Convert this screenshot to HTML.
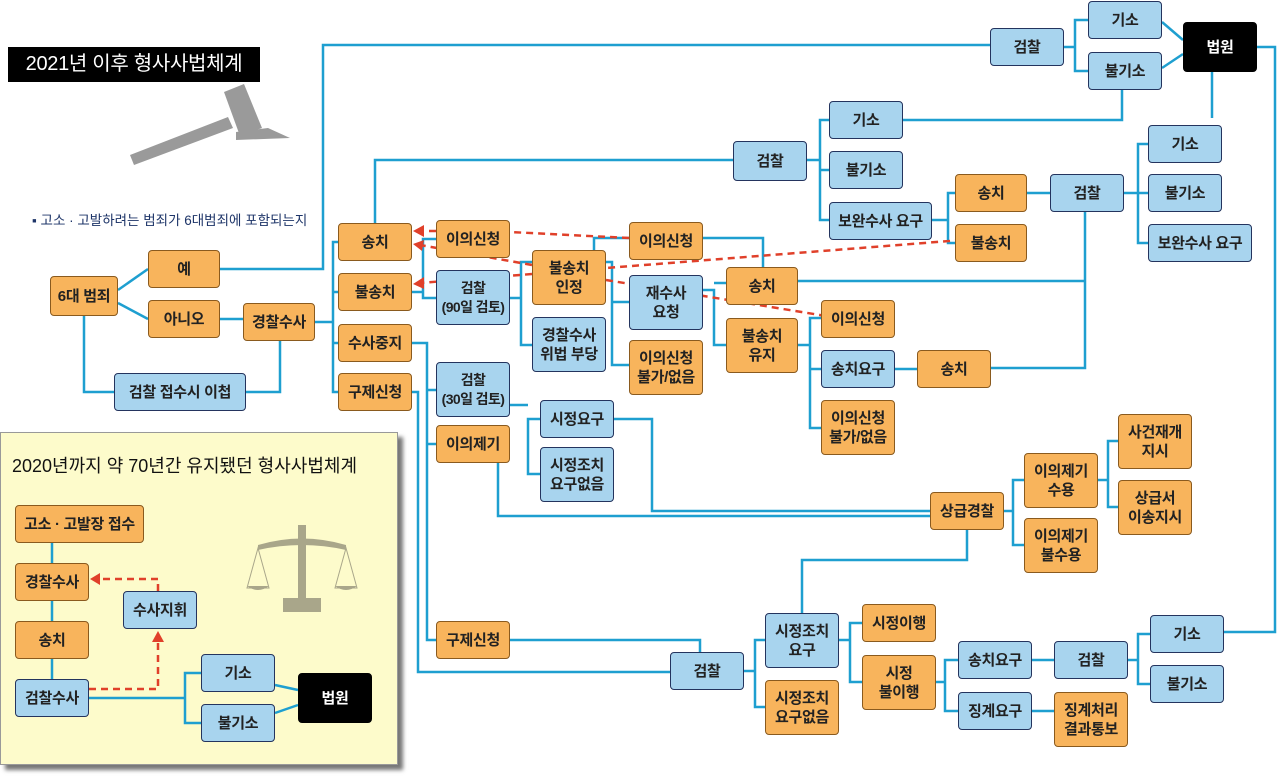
<!DOCTYPE html>
<html><head><meta charset="utf-8"><style>
body{margin:0;width:1278px;height:780px;background:#fff;position:relative;overflow:hidden;font-family:"Liberation Sans","Noto Sans CJK KR",sans-serif;}
svg{position:absolute;left:0;top:0}
.b{position:absolute;box-sizing:border-box;border-radius:4px;display:flex;align-items:center;justify-content:center;text-align:center;font-size:15px;font-weight:bold;line-height:19px;color:#222;white-space:nowrap;letter-spacing:-0.3px}
.s{font-size:14px;letter-spacing:-0.6px}
.o{background:#f8b45c;border:1.5px solid #8a5a1e}
.u{background:#a8d4ee;border:1.5px solid #24345e}
.k{background:#000;color:#fff;border:1px solid #000}
.dot{position:absolute;width:6px;height:6px;border-radius:3px;background:#e8301c}
</style></head><body>
<div style="position:absolute;left:0;top:432px;width:398px;height:333px;background:#fdfbcb;border:1px solid #999;box-shadow:5px 5px 4px #777;box-sizing:border-box"></div>
<svg width="1278" height="780">
<g fill="#9a9a9a">
<polygon points="130,155 228,117 233,128 134,165"/>
<polygon points="224,92 244,84 262,128 240,136"/>
<polygon points="236,132 268,128 290,138 236,140"/>
</g>
<g fill="#a9a68a">
<rect x="298" y="525" width="8" height="78"/><rect x="283" y="598" width="38" height="14"/>
<path d="M258 545 Q302 532 346 545 L346 550 Q302 540 258 550Z"/>
<path d="M247 588 L258 548 L269 588Z" fill="none" stroke="#a9a68a"/><path d="M247 586 h22 q-11 8 -22 0z"/>
<path d="M335 588 L346 548 L357 588Z" fill="none" stroke="#a9a68a"/><path d="M335 586 h22 q-11 8 -22 0z"/>
</g>
<g stroke="#1e9fd0" stroke-width="2.5" fill="none">
<polyline points="220,269 323,269 323,45 990,45"/>
<line x1="118" y1="290" x2="148" y2="269"/><line x1="118" y1="303" x2="148" y2="319"/>
<polyline points="84,316 84,392 114,392"/><polyline points="246,392 280,392 280,341"/>
<line x1="220" y1="319" x2="243" y2="319"/>
<polyline points="315,322 333,322"/><polyline points="338,242 333,242 333,392 338,392"/>
<line x1="333" y1="292" x2="338" y2="292"/><line x1="333" y1="343" x2="338" y2="343"/>
<polyline points="375,223 375,160 733,160"/>
<polyline points="807,160 820,160"/><polyline points="829,120 820,120 820,220 829,220"/><line x1="820" y1="170" x2="829" y2="170"/>
<polyline points="903,120 1122,120 1122,90"/>
<polyline points="932,220 948,220"/><polyline points="955,193 948,193 948,243 955,243"/>
<line x1="1027" y1="193" x2="1050" y2="193"/>
<polyline points="1124,193 1138,193"/><polyline points="1148,144 1138,144 1138,243 1148,243"/><line x1="1138" y1="193" x2="1148" y2="193"/>
<polyline points="1085,212 1085,368 991,368"/><line x1="798" y1="281" x2="1085" y2="281"/>
<polyline points="1064,47 1075,47"/><polyline points="1088,20 1075,20 1075,71 1088,71"/>
<line x1="1162" y1="22" x2="1183" y2="40"/><line x1="1162" y1="68" x2="1183" y2="54"/>
<polyline points="1257,47 1275,47 1275,632 1224,632"/>
<polyline points="1212,72 1212,118"/>
<polyline points="436,239 423,239 423,298 436,298"/><line x1="412" y1="292" x2="423" y2="292"/>
<polyline points="510,298 521,298"/><polyline points="532,262 521,262 521,345 532,345"/>
<polyline points="594,250 594,238 629,238"/>
<polyline points="606,262 612,262 612,365 629,365"/><line x1="612" y1="302" x2="629" y2="302"/>
<polyline points="703,238 763,238 763,267"/>
<polyline points="703,290 714,290 714,345 726,345"/><line x1="714" y1="283" x2="726" y2="283"/>
<polyline points="798,345 810,345"/><polyline points="821,318 810,318 810,428 821,428"/><line x1="810" y1="369" x2="821" y2="369"/>
<line x1="895" y1="369" x2="917" y2="369"/>
<polyline points="412,343 427,343 427,640 436,640"/><line x1="427" y1="390" x2="436" y2="390"/><line x1="427" y1="444" x2="436" y2="444"/>
<polyline points="412,392 418,392 418,672 670,672"/>
<polyline points="510,640 700,640 700,652"/>
<polyline points="744,671 755,671"/><polyline points="765,640 755,640 755,707 765,707"/>
<polyline points="839,640 850,640"/><polyline points="862,623 850,623 850,682 862,682"/>
<polyline points="802,615 802,560 967,560 967,530"/>
<polyline points="510,405 528,405"/><polyline points="540,419 528,419 528,474 540,474"/>
<polyline points="614,419 652,419 652,511 930,511"/>
<polyline points="498,463 498,516 930,516"/>
<polyline points="1004,511 1013,511"/><polyline points="1024,480 1013,480 1013,545 1024,545"/>
<polyline points="1098,480 1108,480"/><polyline points="1118,441 1108,441 1108,507 1118,507"/>
<polyline points="936,682 945,682"/><polyline points="958,660 945,660 945,711 958,711"/>
<line x1="1032" y1="660" x2="1054" y2="660"/><line x1="1032" y1="711" x2="1054" y2="711"/>
<polyline points="1128,660 1138,660"/><polyline points="1150,634 1138,634 1138,684 1150,684"/>
<line x1="52" y1="543" x2="52" y2="563"/><line x1="52" y1="601" x2="52" y2="621"/><line x1="52" y1="659" x2="52" y2="679"/>
<polyline points="89,698 185,698"/><polyline points="201,673 185,673 185,723 201,723"/>
<line x1="275" y1="685" x2="298" y2="690"/><line x1="275" y1="713" x2="298" y2="705"/>
</g>
<g stroke="#e0402a" stroke-width="2.5" fill="none" stroke-dasharray="7,5">
<line x1="629" y1="238" x2="510" y2="232"/><line x1="436" y1="231" x2="420" y2="231"/>
<line x1="532" y1="265" x2="420" y2="245"/>
<line x1="962" y1="240" x2="606" y2="268"/>
<line x1="532" y1="274" x2="420" y2="283"/>
<line x1="826" y1="316" x2="606" y2="280"/>
<polyline points="89,689 158,689 158,640"/><polyline points="158,591 158,579 96,579"/>
</g>
<g fill="#e0402a">
<polygon points="413,231 424,225 424,237"/><polygon points="413,244 424,240 422,251"/><polygon points="413,284 424,277 424,289"/>
<polygon points="158,631 152,642 164,642"/><polygon points="90,579 100,573 100,585"/>
</g>
</svg>
<div class="dot" style="left:629px;top:234px"></div><div class="dot" style="left:958px;top:237px"></div><div class="dot" style="left:823px;top:313px"></div>
<div class="b k" style="left:8px;top:47px;width:252px;height:35px;font-weight:normal;font-size:20px;border-radius:0">2021년 이후 형사사법체계</div>
<div style="position:absolute;left:32px;top:209px;font-size:13.5px;color:#1d3468">▪ 고소 · 고발하려는 범죄가 6대범죄에 포함되는지</div>
<div class="b o" style="left:50px;top:276px;width:68px;height:40px">6대 범죄</div>
<div class="b o" style="left:148px;top:250px;width:72px;height:38px">예</div>
<div class="b o" style="left:148px;top:300px;width:72px;height:38px">아니오</div>
<div class="b o" style="left:243px;top:303px;width:72px;height:38px">경찰수사</div>
<div class="b u" style="left:114px;top:373px;width:132px;height:38px">검찰 접수시 이첩</div>
<div class="b o" style="left:338px;top:223px;width:74px;height:38px">송치</div>
<div class="b o" style="left:338px;top:273px;width:74px;height:38px">불송치</div>
<div class="b o" style="left:338px;top:324px;width:74px;height:38px">수사중지</div>
<div class="b o" style="left:338px;top:373px;width:74px;height:38px">구제신청</div>
<div class="b o" style="left:436px;top:220px;width:74px;height:38px">이의신청</div>
<div class="b u s" style="left:436px;top:270px;width:74px;height:55px">검찰<br>(90일 검토)</div>
<div class="b o" style="left:532px;top:250px;width:74px;height:55px">불송치<br>인정</div>
<div class="b u" style="left:532px;top:317px;width:74px;height:55px">경찰수사<br>위법 부당</div>
<div class="b o" style="left:629px;top:222px;width:74px;height:38px">이의신청</div>
<div class="b u" style="left:629px;top:275px;width:74px;height:55px">재수사<br>요청</div>
<div class="b o" style="left:629px;top:340px;width:74px;height:55px">이의신청<br>불가/없음</div>
<div class="b o" style="left:726px;top:267px;width:72px;height:38px">송치</div>
<div class="b o" style="left:726px;top:318px;width:72px;height:55px">불송치<br>유지</div>
<div class="b o" style="left:821px;top:300px;width:74px;height:38px">이의신청</div>
<div class="b u" style="left:821px;top:350px;width:74px;height:38px">송치요구</div>
<div class="b o" style="left:917px;top:350px;width:74px;height:38px">송치</div>
<div class="b o" style="left:821px;top:400px;width:74px;height:55px">이의신청<br>불가/없음</div>
<div class="b u" style="left:733px;top:141px;width:74px;height:40px">검찰</div>
<div class="b u" style="left:829px;top:101px;width:74px;height:38px">기소</div>
<div class="b u" style="left:829px;top:151px;width:74px;height:38px">불기소</div>
<div class="b u" style="left:829px;top:202px;width:103px;height:38px">보완수사 요구</div>
<div class="b o" style="left:955px;top:174px;width:72px;height:38px">송치</div>
<div class="b o" style="left:955px;top:224px;width:72px;height:38px">불송치</div>
<div class="b u" style="left:1050px;top:174px;width:74px;height:38px">검찰</div>
<div class="b u" style="left:1148px;top:125px;width:74px;height:38px">기소</div>
<div class="b u" style="left:1148px;top:174px;width:74px;height:38px">불기소</div>
<div class="b u" style="left:1148px;top:224px;width:104px;height:38px">보완수사 요구</div>
<div class="b u" style="left:990px;top:28px;width:74px;height:38px">검찰</div>
<div class="b u" style="left:1088px;top:1px;width:74px;height:38px">기소</div>
<div class="b u" style="left:1088px;top:52px;width:74px;height:38px">불기소</div>
<div class="b k" style="left:1183px;top:22px;width:74px;height:50px">법원</div>
<div class="b u s" style="left:436px;top:362px;width:74px;height:55px">검찰<br>(30일 검토)</div>
<div class="b o" style="left:436px;top:425px;width:74px;height:38px">이의제기</div>
<div class="b u" style="left:540px;top:400px;width:74px;height:38px">시정요구</div>
<div class="b u" style="left:540px;top:447px;width:74px;height:55px">시정조치<br>요구없음</div>
<div class="b o" style="left:930px;top:492px;width:74px;height:38px">상급경찰</div>
<div class="b o" style="left:1024px;top:453px;width:74px;height:55px">이의제기<br>수용</div>
<div class="b o" style="left:1024px;top:518px;width:74px;height:55px">이의제기<br>불수용</div>
<div class="b o" style="left:1118px;top:414px;width:74px;height:55px">사건재개<br>지시</div>
<div class="b o" style="left:1118px;top:480px;width:74px;height:55px">상급서<br>이송지시</div>
<div class="b o" style="left:436px;top:621px;width:74px;height:38px">구제신청</div>
<div class="b u" style="left:670px;top:652px;width:74px;height:38px">검찰</div>
<div class="b u" style="left:765px;top:613px;width:74px;height:55px">시정조치<br>요구</div>
<div class="b o" style="left:765px;top:680px;width:74px;height:55px">시정조치<br>요구없음</div>
<div class="b o" style="left:862px;top:604px;width:74px;height:38px">시정이행</div>
<div class="b o" style="left:862px;top:655px;width:74px;height:55px">시정<br>불이행</div>
<div class="b u" style="left:958px;top:641px;width:74px;height:38px">송치요구</div>
<div class="b u" style="left:958px;top:692px;width:74px;height:38px">징계요구</div>
<div class="b u" style="left:1054px;top:641px;width:74px;height:38px">검찰</div>
<div class="b o" style="left:1054px;top:692px;width:74px;height:55px">징계처리<br>결과통보</div>
<div class="b u" style="left:1150px;top:615px;width:74px;height:38px">기소</div>
<div class="b u" style="left:1150px;top:665px;width:74px;height:38px">불기소</div>
<div style="position:absolute;left:12px;top:452px;font-size:18px;color:#111">2020년까지 약 70년간 유지됐던 형사사법체계</div>
<div class="b o" style="left:15px;top:505px;width:129px;height:38px">고소 · 고발장 접수</div>
<div class="b o" style="left:15px;top:563px;width:74px;height:38px">경찰수사</div>
<div class="b o" style="left:15px;top:621px;width:74px;height:38px">송치</div>
<div class="b u" style="left:15px;top:679px;width:74px;height:38px">검찰수사</div>
<div class="b u" style="left:123px;top:591px;width:74px;height:38px">수사지휘</div>
<div class="b u" style="left:201px;top:654px;width:74px;height:38px">기소</div>
<div class="b u" style="left:201px;top:704px;width:74px;height:38px">불기소</div>
<div class="b k" style="left:298px;top:673px;width:74px;height:50px">법원</div>
</body></html>
